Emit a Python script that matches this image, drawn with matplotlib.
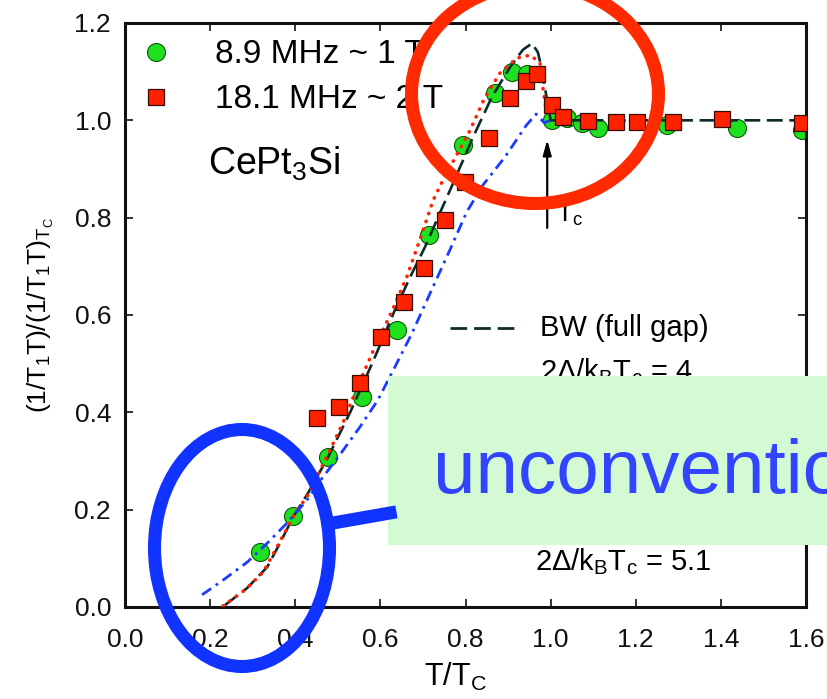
import matplotlib
matplotlib.use("Agg")
import matplotlib.pyplot as plt
from matplotlib.patches import Ellipse, Rectangle
from matplotlib.lines import Line2D

plt.rcParams['font.family'] = ['Liberation Sans', 'DejaVu Sans']
plt.rcParams['mathtext.default'] = 'regular'

# Measured relaxation rate, normalised to its value at Tc
t_89 = [0.317, 0.395, 0.477, 0.557, 0.639, 0.714, 0.795, 0.869, 0.910, 0.945,
        1.003, 1.038, 1.074, 1.111, 1.273, 1.438, 1.591]
r_89 = [0.113, 0.187, 0.308, 0.431, 0.569, 0.764, 0.949, 1.057, 1.099, 1.095,
        1.000, 1.005, 0.994, 0.984, 0.990, 0.984, 0.980]

t_181 = [0.451, 0.503, 0.552, 0.601, 0.655, 0.703, 0.752, 0.799, 0.855, 0.905,
         0.942, 0.968, 1.003, 1.029, 1.088, 1.154, 1.204, 1.288, 1.403, 1.591]
r_181 = [0.388, 0.411, 0.460, 0.555, 0.627, 0.697, 0.795, 0.873, 0.964, 1.046,
         1.081, 1.095, 1.031, 1.007, 0.999, 0.997, 0.997, 0.997, 1.002, 0.994]

# Model curves
t_bw = [0.235, 0.287, 0.334, 0.364, 0.395, 0.430, 0.477, 0.529, 0.583, 0.634,
        0.670, 0.705, 0.740, 0.764, 0.818, 0.862, 0.905, 0.935, 0.956, 0.970,
        0.978, 0.986, 0.994, 1.000, 1.600]
r_bw = [0.004, 0.039, 0.082, 0.131, 0.185, 0.234, 0.308, 0.400, 0.505, 0.610,
        0.678, 0.740, 0.810, 0.857, 0.966, 1.048, 1.110, 1.145, 1.158, 1.140,
        1.110, 1.070, 1.030, 1.000, 1.000]

t_dot = [0.230, 0.282, 0.325, 0.357, 0.400, 0.430, 0.482, 0.517, 0.540, 0.587,
         0.623, 0.662, 0.698, 0.724, 0.747, 0.811, 0.846, 0.881, 0.921, 0.952,
         0.975, 0.982, 0.988, 1.000]
r_dot = [0.002, 0.035, 0.072, 0.123, 0.193, 0.230, 0.323, 0.388, 0.440, 0.534,
         0.600, 0.678, 0.768, 0.836, 0.877, 0.980, 1.048, 1.097, 1.128, 1.134,
         1.118, 1.066, 1.030, 1.000]

t_dd = [0.181, 0.230, 0.287, 0.334, 0.380, 0.427, 0.465, 0.505, 0.552, 0.594,
        0.634, 0.674, 0.717, 0.764, 0.803, 0.841, 0.893, 0.920, 0.943, 0.966,
        0.985, 1.000]
r_dd = [0.025, 0.055, 0.092, 0.131, 0.172, 0.219, 0.267, 0.313, 0.370, 0.425,
        0.493, 0.562, 0.645, 0.735, 0.812, 0.867, 0.925, 0.960, 0.990, 1.013,
        0.995, 1.000]

x_ticks = [0.0, 0.2, 0.4, 0.6, 0.8, 1.0, 1.2, 1.4, 1.6]
y_ticks = [0.0, 0.2, 0.4, 0.6, 0.8, 1.0, 1.2]

fig = plt.figure(figsize=(8.28, 6.99), dpi=100)
ax = fig.add_axes([125 / 828, 92 / 699, 681 / 828, 584 / 699])

green = '#1ee01e'
red = '#ff2200'

pts_89, = ax.plot(t_89, r_89, 'o', ms=13, mfc=green, mec='#0b5a0b', mew=0.8,
                  zorder=2, label='8.9 MHz ~ 1 T')
ax.plot(t_bw, r_bw, color='#0e2a2a', lw=1.9, dashes=(6, 2.5), zorder=3)
ax.plot(t_dot, r_dot, color=red, lw=2.6, ls=(0, (0.1, 2.2)),
        dash_capstyle='round', zorder=3)
ax.plot(t_dd, r_dd, color='#1a3cff', lw=2.0, dashes=(4, 2, 1, 2), zorder=3)
pts_181, = ax.plot(t_181, r_181, 's', ms=11.5, mfc=red, mec='#3a0a00', mew=0.9,
                   zorder=4, label='18.1 MHz ~ 2 T')

ax.set_xlim(0, 1.6)
ax.set_ylim(0, 1.2)
ax.set_xticks(x_ticks)
ax.set_yticks(y_ticks)
ax.set_xticklabels([f'{v:.1f}' for v in x_ticks])
ax.set_yticklabels([f'{v:.1f}' for v in y_ticks])
ax.tick_params(direction='in', length=6, width=1.2, top=True, right=True,
               labelsize=19, colors='#111111')
ax.tick_params(axis='x', pad=15)
ax.tick_params(axis='y', pad=10)
for s in ax.spines.values():
    s.set_linewidth(2.2)
    s.set_color('#111111')

ax.set_xlabel('T/T$_C$', fontsize=22)
ax.xaxis.set_label_coords((455 - 125) / 681, -0.092)
ax.set_ylabel('(1/T$_1$T)/(1/T$_1$T)$_{T_C}$', fontsize=19)
ax.yaxis.set_label_coords(-0.102, 0.5)

ax.legend(handles=[pts_89, pts_181], loc='upper left', frameon=False,
          fontsize=24, handlelength=1.0, handletextpad=1.27, labelspacing=0.42,
          borderpad=0, borderaxespad=0, bbox_to_anchor=(0.021, 0.972))

ax.text(0.195, 0.888, 'CePt$_3$Si', fontsize=27, va='baseline', ha='left')

# Tc marker
ax.annotate('', xy=(0.992, 0.960), xytext=(0.992, 0.779),
            arrowprops=dict(arrowstyle='-|>,head_length=0.9,head_width=0.25',
                            color='black', lw=1.6, shrinkA=0, shrinkB=0))
ax.text(1.012, 0.791, 'T$_c$', fontsize=19, va='baseline', ha='left')

# Model key
ax.plot([0.764, 0.916], [0.573, 0.573], color='#0e2a2a', lw=2.0, dashes=(6, 2.5))
ax.text(0.975, 0.573, 'BW (full gap)', fontsize=21, va='center', ha='left')
ax.text(0.975, 0.466, '2\u0394/k$_B$T$_c$ = 4', fontsize=21, va='baseline', ha='left')
ax.text(0.963, 0.076, '2\u0394/k$_B$T$_c$ = 5.1', fontsize=21, va='baseline', ha='left')

# Highlight overlays, placed in inches from the lower-left corner
tr = fig.dpi_scale_trans
fig.add_artist(Ellipse((5.35, 6.05), 2.47, 2.19, fill=False, ec='#ff2a00',
                       lw=9.4, transform=tr, zorder=5))
fig.add_artist(Rectangle((3.88, 1.54), 4.6, 1.69, fc='#d4fad4', ec='none',
                         transform=tr, zorder=5))
fig.add_artist(Ellipse((2.42, 1.51), 1.75, 2.37, fill=False, ec='#1133ff',
                       lw=9.4, transform=tr, zorder=6))
fig.add_artist(Line2D([3.33, 3.90], [1.76, 1.86], color='#1133ff', lw=9.4,
                      transform=tr, zorder=6))
fig.text(4.33 / 8.28, 2.06 / 6.99, 'unconventio', fontsize=55,
         color='#3344ff', va='baseline', ha='left', zorder=7)

fig.savefig('out.png', dpi=100)
